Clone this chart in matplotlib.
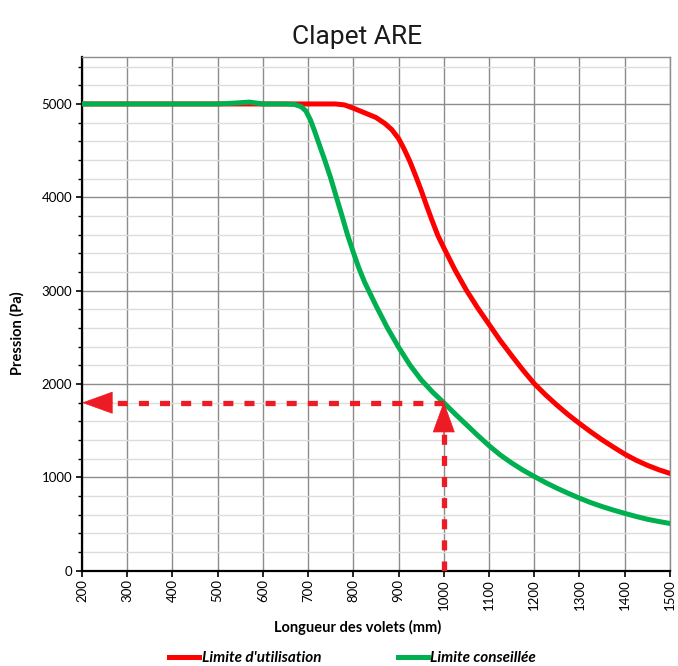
import matplotlib
matplotlib.use("Agg")
import matplotlib.pyplot as plt
from matplotlib.lines import Line2D
from matplotlib.ticker import MultipleLocator

plt.rcParams['font.family'] = ['Lato', 'DejaVu Sans']

# Data
x_red = [200, 300, 400, 500, 600, 700, 760, 780, 800, 825, 850, 870, 885, 900, 912, 925,
         937, 950, 962, 975, 987, 1000, 1025, 1050, 1075, 1100, 1125, 1150, 1175, 1200,
         1225, 1250, 1275, 1300, 1325, 1350, 1375, 1400, 1425, 1450, 1475, 1500]
y_red = [5000, 5000, 5000, 5000, 5000, 5000, 5000, 4990, 4955, 4905, 4855, 4790, 4725, 4630,
         4520, 4385, 4240, 4075, 3910, 3740, 3590, 3460, 3220, 3005, 2815, 2640, 2465, 2305,
         2150, 2005, 1885, 1775, 1672, 1578, 1488, 1403, 1325, 1250, 1185, 1130, 1083, 1043]

x_green = [200, 300, 400, 500, 540, 570, 600, 650, 670, 685, 695, 705, 715, 725, 737, 750,
           762, 775, 787, 800, 812, 825, 850, 875, 900, 925, 950, 975, 1000, 1025, 1050,
           1075, 1100, 1125, 1150, 1175, 1200, 1225, 1250, 1275, 1300, 1325, 1350, 1375, 1400,
           1425, 1450, 1475, 1500]
y_green = [5000, 5000, 5000, 5000, 5010, 5020, 5000, 5000, 4995, 4970, 4925, 4830, 4700, 4560,
           4395, 4205, 4010, 3800, 3600, 3410, 3245, 3090, 2840, 2605, 2395, 2205, 2045,
           1915, 1800, 1680, 1565, 1450, 1340, 1240, 1155, 1078, 1010, 945, 885, 830, 778,
           730, 688, 650, 615, 582, 552, 528, 507]

# Reading line (dashed arrows)
x_read = 1000
y_read = 1800

fig = plt.figure(figsize=(6.78, 6.66), dpi=100)
ax = fig.add_axes([0.121, 0.143, 0.867, 0.771])

ax.plot(x_red, y_red, color="#FF0000", lw=3.6, solid_capstyle="round",
        solid_joinstyle="round", zorder=3)
ax.plot(x_green, y_green, color="#00B050", lw=3.6, solid_capstyle="round",
        solid_joinstyle="round", zorder=4)

arrow_col = "#ED1C24"
head = "-|>,head_length=2.1,head_width=0.76"
# horizontal dashed line + head pointing to the y axis
ax.plot([x_read, 262], [y_read, y_read], color=arrow_col, lw=3.8,
        dashes=(1.9, 2.1), zorder=5)
ax.annotate("", xy=(200, y_read), xytext=(268, y_read),
            arrowprops=dict(arrowstyle=head, color=arrow_col, lw=0.5,
                            shrinkA=0, shrinkB=0, mutation_scale=10), zorder=6)
# vertical dashed line + head pointing to the curve
ax.plot([x_read, x_read], [0, 1470], color=arrow_col, lw=3.8,
        dashes=(1.9, 2.1), zorder=5)
ax.annotate("", xy=(x_read, 1810), xytext=(x_read, 1440),
            arrowprops=dict(arrowstyle=head, color=arrow_col, lw=0.5,
                            shrinkA=0, shrinkB=0, mutation_scale=10), zorder=6)

ax.set_xlim(200, 1500)
ax.set_ylim(0, 5500)
ax.xaxis.set_major_locator(MultipleLocator(100))
ax.yaxis.set_minor_locator(MultipleLocator(200))
ax.set_yticks([0, 1000, 2000, 3000, 4000, 5000])

ax.grid(which="major", color="#8C8C8C", lw=1.0)
ax.grid(which="minor", axis="y", color="#DCDCDC", lw=1.0)
ax.set_axisbelow(True)

for s in ["top", "right"]:
    ax.spines[s].set_color("#8C8C8C")
    ax.spines[s].set_linewidth(1.0)
for s in ["left", "bottom"]:
    ax.spines[s].set_color("black")
    ax.spines[s].set_linewidth(1.6)

ax.tick_params(axis="x", which="major", direction="out", length=4, width=1.2,
               labelsize=9.5, labelrotation=90, pad=2)
ax.tick_params(axis="y", which="major", direction="out", length=4, width=1.2,
               labelsize=9.5, pad=3)
ax.tick_params(axis="y", which="minor", direction="out", length=3, width=1.0)
ax.tick_params(axis="x", which="minor", length=0)

ax.set_xlabel("Longueur des volets (mm)", fontsize=10.5, fontweight="bold")
ax.xaxis.set_label_coords(0.468, -0.096)
ax.set_ylabel("Pression (Pa)", fontsize=10.5, fontweight="bold")
ax.yaxis.set_label_coords(-0.097, 0.463)

fig.text(0.527, 0.934, "Clapet ARE", ha="center", va="baseline", fontsize=19,
         family=["Roboto", "DejaVu Sans"], color="#1a1a1a")

handles = [Line2D([], [], color="#FF0000", lw=3.6),
           Line2D([], [], color="#00B050", lw=3.6)]
fig.legend(handles, ["Limite d'utilisation", "Limite conseillée"],
           loc="center", bbox_to_anchor=(0.52, 0.012), ncol=2, frameon=False,
           prop=dict(size=11, weight="bold", style="italic"),
           handlelength=2.0, handletextpad=0.15, columnspacing=5.0)

fig.savefig("out.png", dpi=100)
